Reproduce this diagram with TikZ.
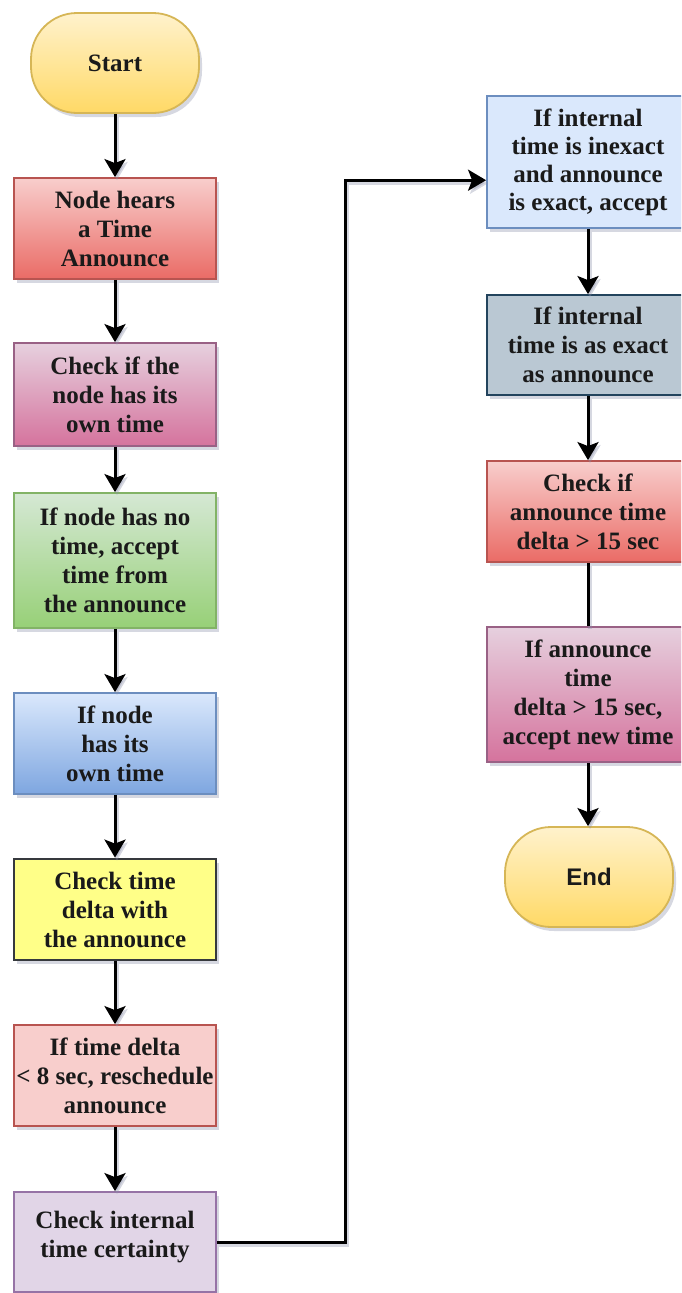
\documentclass[tikz,border=0pt]{standalone}
\usepackage{fontspec}
\setmainfont{Liberation Serif}
\newfontfamily\labelsans{Liberation Sans}
\usetikzlibrary{shadows,arrows.meta,calc}

\definecolor{txt}{HTML}{1A1A1A}
\definecolor{redA}{HTML}{F8CECC}\definecolor{redB}{HTML}{EA6B66}\definecolor{redS}{HTML}{B85450}
\definecolor{pinkA}{HTML}{E6D0DE}\definecolor{pinkB}{HTML}{D5739D}\definecolor{pinkS}{HTML}{996185}
\definecolor{grnA}{HTML}{D5E8D4}\definecolor{grnB}{HTML}{97D077}\definecolor{grnS}{HTML}{82B366}
\definecolor{bluA}{HTML}{DAE8FC}\definecolor{bluB}{HTML}{7EA6E0}\definecolor{bluS}{HTML}{6C8EBF}
\definecolor{yelF}{HTML}{FFFF88}\definecolor{yelS}{HTML}{36393D}
\definecolor{purF}{HTML}{E1D5E7}\definecolor{purS}{HTML}{9673A6}
\definecolor{slaF}{HTML}{BAC8D3}\definecolor{slaS}{HTML}{23445D}
\definecolor{golA}{HTML}{FFF2CC}\definecolor{golB}{HTML}{FFD966}\definecolor{golS}{HTML}{D6B656}
\definecolor{shade}{HTML}{8A8FA8}

\begin{document}
\begin{tikzpicture}[x=1pt,y=-1pt,
  softshadow/.style={drop shadow={shadow xshift=3pt, shadow yshift=-4pt, fill=shade, opacity=0.35}},
  box/.style={draw, line width=1.8pt, minimum width=202pt, minimum height=101pt,
    align=center, inner sep=1.5pt, text=txt,
    font=\bfseries\fontsize{25}{29}\selectfont, softshadow},
  term/.style={box, rounded corners=46pt, minimum width=168pt, minimum height=100pt,
    top color=golA, bottom color=golB, draw=golS},
  redbox/.style={box, top color=redA, bottom color=redB, draw=redS},
  pinkbox/.style={box, top color=pinkA, bottom color=pinkB, draw=pinkS},
  grnbox/.style={box, top color=grnA, bottom color=grnB, draw=grnS},
  blubox/.style={box, top color=bluA, bottom color=bluB, draw=bluS},
  conn/.style={line width=3pt, black,
    preaction={draw=shade, opacity=0.35, line width=3.5pt, transform canvas={shift={(2pt,-3pt)}}}},
  flow/.style={conn, -{Stealth[length=18pt, width=21pt, inset=4pt]}}
]
\clip (0,0) rectangle (681,1293);
\useasboundingbox (0,0) rectangle (681,1293);

% left column
\node[term] (start) at (115,63) {Start};
\node[redbox] (n1) at (115,228.5) {Node hears\\a Time\\Announce};
\node[pinkbox, minimum height=103pt] (n2) at (115,394.5) {Check if the\\node has its\\own time};
\node[grnbox, minimum height=135pt] (n3) at (115,560.5) {If node has no\\time, accept\\time from\\the announce};
\node[blubox] (n4) at (115,743.5) {If node\\has its\\own time};
\node[box, fill=yelF, draw=yelS, line width=2.8pt] (n5) at (115,909.5) {Check time\\delta with\\the announce};
\node[box, fill=redA, draw=redS] (n6) at (115,1075.5) {If time delta\\\textless{} 8 sec, reschedule\\announce};
\node[box, fill=purF, draw=purS, minimum height=100pt] (n7) at (115,1242) {Check internal\\time certainty\\[-13pt]\mbox{}};

% right column
\node[box, fill=bluA, draw=bluS, minimum height=132pt, font=\bfseries\fontsize{25}{28}\selectfont] (n8) at (588,162) {If internal\\time is inexact\\and announce\\is exact, accept};
\node[box, fill=slaF, draw=slaS, minimum height=100pt] (n9) at (588,345) {If internal\\time is as exact\\as announce};
\node[redbox] (n10) at (588,511.5) {Check if\\announce time\\delta \textgreater{} 15 sec};
\node[pinkbox, minimum height=135pt] (n11) at (588,694.5) {If announce\\time\\delta \textgreater{} 15 sec,\\accept new time};
\node[term, font=\labelsans\bfseries\fontsize{24}{29}\selectfont] (end) at (589,877) {End};

% connectors
\draw[flow] (start) -- (n1);
\draw[flow] (n1) -- (n2);
\draw[flow] (n2) -- (n3);
\draw[flow] (n3) -- (n4);
\draw[flow] (n4) -- (n5);
\draw[flow] (n5) -- (n6);
\draw[flow] (n6) -- (n7);

\coordinate (n8in) at ($(n8.north west)!0.636!(n8.south west)$);
\draw[flow] (n7.east) -| ($(n8in)+(-141,0)$) -- (n8in);

\draw[flow] (n8) -- (n9);
\draw[flow] (n9) -- (n10);
\draw[conn] (n10) -- (n11);
\draw[flow] (n11.south) -- (n11.south |- end.north);
\end{tikzpicture}
\end{document}
